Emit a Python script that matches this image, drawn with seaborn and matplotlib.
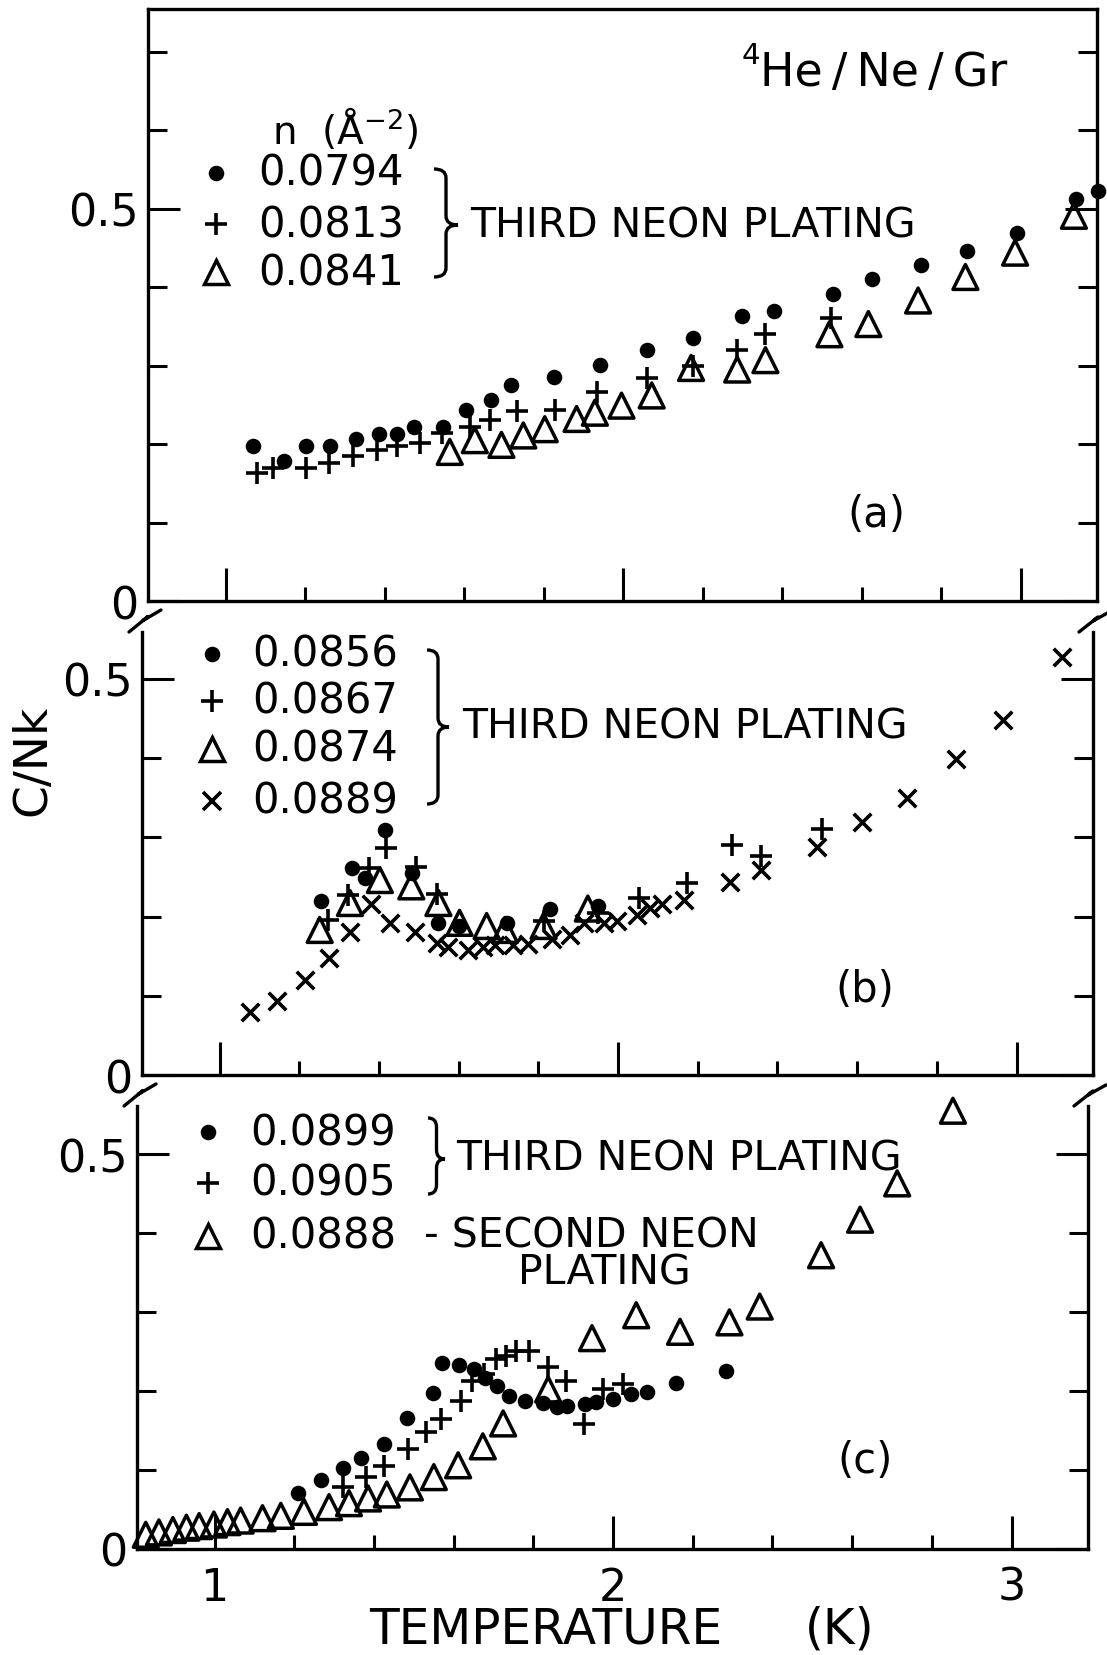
import matplotlib
matplotlib.use("Agg")
import matplotlib.pyplot as plt
import seaborn as sns
from matplotlib.lines import Line2D
from matplotlib.path import Path
from matplotlib.patches import PathPatch

# ---------------- data ----------------
# panel (a)
a_dot_T = [1.068, 1.146, 1.203, 1.264, 1.328, 1.385, 1.431, 1.474, 1.547, 1.604, 1.668, 1.717,
           1.827, 1.941, 2.061, 2.175, 2.298, 2.380, 2.528, 2.626, 2.750, 2.866, 2.991, 3.139, 3.195]
a_dot_C = [0.197, 0.179, 0.198, 0.197, 0.207, 0.213, 0.213, 0.222, 0.222, 0.244, 0.256, 0.275,
           0.286, 0.301, 0.320, 0.335, 0.363, 0.370, 0.391, 0.410, 0.428, 0.446, 0.469, 0.512, 0.523]
a_plus_T = [1.078, 1.119, 1.203, 1.260, 1.320, 1.381, 1.431, 1.488, 1.545, 1.615, 1.666, 1.733,
            1.828, 1.935, 2.060, 2.175, 2.287, 2.358, 2.522]
a_plus_C = [0.163, 0.169, 0.169, 0.176, 0.185, 0.192, 0.197, 0.202, 0.214, 0.222, 0.231, 0.242,
            0.243, 0.266, 0.284, 0.300, 0.320, 0.340, 0.361]
a_tri_T = [1.564, 1.627, 1.694, 1.749, 1.803, 1.883, 1.929, 1.996, 2.072, 2.171, 2.287, 2.358,
           2.519, 2.617, 2.742, 2.861, 2.986, 3.134]
a_tri_C = [0.190, 0.205, 0.199, 0.211, 0.219, 0.232, 0.240, 0.249, 0.262, 0.297, 0.295, 0.307,
           0.340, 0.353, 0.383, 0.413, 0.444, 0.491]
a_labels = ["0.0794", "0.0813", "0.0841"]

# panel (b)
b_dot_T = [1.255, 1.331, 1.364, 1.414, 1.483, 1.549, 1.600, 1.720, 1.828, 1.949]
b_dot_C = [0.220, 0.261, 0.248, 0.309, 0.255, 0.192, 0.188, 0.192, 0.210, 0.213]
b_plus_T = [1.272, 1.322, 1.375, 1.417, 1.492, 1.546, 1.813, 1.949, 2.052, 2.174, 2.287, 2.358, 2.512]
b_plus_C = [0.196, 0.227, 0.261, 0.286, 0.263, 0.229, 0.194, 0.205, 0.223, 0.242, 0.290, 0.276, 0.311]
b_tri_T = [1.251, 1.327, 1.402, 1.481, 1.549, 1.602, 1.670, 1.716, 1.813, 1.924]
b_tri_C = [0.183, 0.217, 0.246, 0.238, 0.217, 0.192, 0.188, 0.183, 0.188, 0.210]
b_x_T = [1.076, 1.144, 1.213, 1.274, 1.326, 1.381, 1.427, 1.490, 1.545, 1.574, 1.624, 1.662,
         1.691, 1.737, 1.775, 1.834, 1.880, 1.914, 1.964, 1.997, 2.048, 2.081, 2.111, 2.165,
         2.280, 2.358, 2.500, 2.613, 2.725, 2.849, 2.965, 3.115]
b_x_C = [0.080, 0.093, 0.120, 0.148, 0.181, 0.216, 0.192, 0.181, 0.167, 0.161, 0.158, 0.162,
         0.164, 0.164, 0.165, 0.171, 0.177, 0.192, 0.192, 0.194, 0.202, 0.211, 0.216, 0.221,
         0.244, 0.259, 0.288, 0.319, 0.349, 0.399, 0.448, 0.527]
b_labels = ["0.0856", "0.0867", "0.0874", "0.0889"]

# panel (c)
c_dot_T = [1.209, 1.267, 1.322, 1.368, 1.425, 1.483, 1.549, 1.570, 1.614, 1.650, 1.678, 1.708,
           1.738, 1.779, 1.823, 1.858, 1.885, 1.929, 1.956, 2.000, 2.044, 2.085, 2.159, 2.283]
c_dot_C = [0.071, 0.087, 0.103, 0.115, 0.133, 0.166, 0.198, 0.236, 0.233, 0.228, 0.216, 0.206,
           0.194, 0.187, 0.185, 0.180, 0.181, 0.183, 0.186, 0.190, 0.196, 0.199, 0.210, 0.226]
c_plus_T = [1.321, 1.379, 1.425, 1.484, 1.530, 1.568, 1.618, 1.647, 1.677, 1.706, 1.731, 1.756,
            1.790, 1.836, 1.882, 1.928, 1.974, 2.024]
c_plus_C = [0.078, 0.091, 0.105, 0.127, 0.148, 0.165, 0.188, 0.213, 0.222, 0.241, 0.245, 0.251,
            0.251, 0.230, 0.213, 0.158, 0.202, 0.209]
c_tri_T = [0.827, 0.860, 0.895, 0.929, 0.961, 0.998, 1.032, 1.065, 1.120, 1.166, 1.224, 1.287,
           1.337, 1.385, 1.432, 1.490, 1.550, 1.611, 1.673, 1.724, 1.837, 1.947, 2.058, 2.168,
           2.292, 2.368, 2.522, 2.620, 2.713, 2.853]
c_tri_C = [0.018, 0.021, 0.024, 0.027, 0.029, 0.031, 0.034, 0.036, 0.039, 0.042, 0.047, 0.053,
           0.058, 0.064, 0.069, 0.078, 0.091, 0.106, 0.130, 0.159, 0.202, 0.267, 0.296, 0.275,
           0.287, 0.307, 0.372, 0.417, 0.463, 0.555]
c_labels = ["0.0899", "0.0905", "0.0888"]

x_ticks = [1, 2, 3]
x_tick_labels = ["1", "2", "3"]

# ---------------- figure ----------------
W, H = 1107, 1656
sns.set_style("ticks", {"axes.edgecolor": "black", "xtick.color": "black",
                        "ytick.color": "black", "axes.linewidth": 2.4})
plt.rcParams['font.family'] = ['DejaVu Sans']
plt.rcParams['text.color'] = 'black'

fig = plt.figure(figsize=(W / 100, H / 100), dpi=100)


def fr(px, py):
    return (px / W, 1 - py / H)


def make_axes(l, t, r, b):
    x0, y1 = fr(l, t)
    x1, y0 = fr(r, b)
    return fig.add_axes([x0, y0, x1 - x0, y1 - y0])


XLIM = (0.805, 3.192)
ax_a = make_axes(148, 10, 1097, 602)
ax_b = make_axes(142, 633, 1093, 1076)
ax_c = make_axes(137, 1107, 1088, 1550)
ylims = {ax_a: 0.7546, ax_b: 0.559, ax_c: 0.561}

LW = 2.4
STY = {
    'dot': dict(marker='o', s=125, color='black', edgecolor='black', linewidth=0),
    'plus': dict(marker='+', s=260, color='black', linewidth=2.6),
    'x': dict(marker='x', s=160, color='black', linewidth=2.6),
    'tri': dict(marker='^', s=320, color='black', facecolors='none', edgecolor='black', linewidth=2.5),
}


def draw(ax, T, C, kind):
    sns.scatterplot(x=T, y=C, ax=ax, clip_on=False, legend=False, zorder=3, **STY[kind])


draw(ax_a, a_dot_T, a_dot_C, 'dot')
draw(ax_a, a_plus_T, a_plus_C, 'plus')
draw(ax_a, a_tri_T, a_tri_C, 'tri')
draw(ax_b, b_dot_T, b_dot_C, 'dot')
draw(ax_b, b_plus_T, b_plus_C, 'plus')
draw(ax_b, b_tri_T, b_tri_C, 'tri')
draw(ax_b, b_x_T, b_x_C, 'x')
draw(ax_c, c_dot_T, c_dot_C, 'dot')
draw(ax_c, c_plus_T, c_plus_C, 'plus')
draw(ax_c, c_tri_T, c_tri_C, 'tri')

minor_x = [1.2, 1.4, 1.6, 1.8, 2.2, 2.4, 2.6, 2.8]
for ax in (ax_a, ax_b, ax_c):
    ax.set_xlim(*XLIM)
    ax.set_ylim(0, ylims[ax])
    ax.set_xlabel("")
    ax.set_ylabel("")
    ax.set_xticks(x_ticks)
    ax.set_xticks(minor_x, minor=True)
    ax.set_yticks([0, 0.5])
    ax.set_yticklabels(["0", "0.5"])
    ax.set_yticks([v for v in (0.1, 0.2, 0.3, 0.4, 0.6, 0.7) if v < ylims[ax]], minor=True)
    ax.tick_params(axis='y', which='both', direction='in', left=True, right=True,
                   labelsize=32, pad=7, width=2.2)
    ax.tick_params(axis='y', which='major', length=23)
    ax.tick_params(axis='y', which='minor', length=14)
    ax.tick_params(axis='x', which='both', direction='in', bottom=True, top=False,
                   labelsize=32, pad=12, width=2.2)
    ax.tick_params(axis='x', which='major', length=24)
    ax.tick_params(axis='x', which='minor', length=10)
    for sp in ax.spines.values():
        sp.set_linewidth(LW)
    ax.set_facecolor('none')

ax_a.tick_params(axis='x', labelbottom=False)
ax_b.tick_params(axis='x', labelbottom=False)
ax_c.set_xticklabels(x_tick_labels)
ax_b.spines['top'].set_visible(False)
ax_c.spines['top'].set_visible(False)


# ---------------- decorations ----------------
def text(px, py, s, size, **kw):
    kw.setdefault('ha', 'left')
    kw.setdefault('va', 'center')
    fig.text(*fr(px, py), s, fontsize=size, **kw)


def marker(px, py, kind):
    st = STY[kind]
    ms = st['s'] ** 0.5
    if kind == 'tri':
        ln = Line2D([px / W], [1 - py / H], marker='^', markersize=ms, markerfacecolor='none',
                    markeredgecolor='black', markeredgewidth=st['linewidth'], linestyle='none',
                    transform=fig.transFigure)
    elif kind == 'dot':
        ln = Line2D([px / W], [1 - py / H], marker='o', markersize=ms, color='black',
                    markeredgewidth=0, linestyle='none', transform=fig.transFigure)
    else:
        ln = Line2D([px / W], [1 - py / H], marker=st['marker'], markersize=ms, color='black',
                    markeredgewidth=st['linewidth'], linestyle='none', transform=fig.transFigure)
    fig.add_artist(ln)


def brace(x0, y_top, y_bot, w, y_tip=None):
    if y_tip is None:
        y_tip = (y_top + y_bot) / 2
    xm = x0 + w * 0.5
    r = 9
    v = [(x0, y_top), (xm, y_top), (xm, y_top + r),
         (xm, y_tip - r),
         (xm, y_tip), (x0 + w, y_tip),
         (xm, y_tip), (xm, y_tip + r),
         (xm, y_bot - r),
         (xm, y_bot), (x0, y_bot)]
    codes = [Path.MOVETO, Path.CURVE3, Path.CURVE3, Path.LINETO, Path.CURVE3, Path.CURVE3,
             Path.CURVE3, Path.CURVE3, Path.LINETO, Path.CURVE3, Path.CURVE3]
    p = Path([fr(a, b) for a, b in v], codes)
    fig.add_artist(PathPatch(p, transform=fig.transFigure, fill=False, lw=2.4, edgecolor='black'))


def bolt(x, y_up_bot, y_low_top):
    ym = (y_up_bot + y_low_top) / 2
    pts = [(x - 16, y_low_top), (x + 3, ym), (x - 2, ym + 4), (x + 16, y_up_bot + 9)]
    xs = [fr(a, b)[0] for a, b in pts]
    ys = [fr(a, b)[1] for a, b in pts]
    fig.add_artist(Line2D(xs, ys, color='black', lw=2.4, transform=fig.transFigure))


bolt(145, 602, 633)
bolt(1095, 603, 633)
bolt(140, 1076, 1107)
bolt(1090, 1077, 1107)

# y label
text(33, 760, "C/Nk", 34, rotation=90, ha='center')

# x label
text(369, 1630, "TEMPERATURE", 35)
text(805, 1630, "(K)", 35)

# panel (a) annotations
text(742, 56, "4", 21)
text(760, 73, "He\u2009/\u2009Ne\u2009/\u2009Gr", 33)
text(272, 144, "n  (Å$^{-2}$)", 28, va='baseline')
for (py, kind, lab) in zip([174, 225, 273], ['dot', 'plus', 'tri'], a_labels):
    marker(216, py, kind)
    text(258, py, lab, 30)
brace(434, 170, 278, 24, 226)
text(470, 227, "THIRD NEON PLATING", 29.5)
text(876, 515, "(a)", 30, ha='center')

# panel (b) annotations
for (py, kind, lab) in zip([655, 702, 750, 802], ['dot', 'plus', 'tri', 'x'], b_labels):
    marker(212, py, kind)
    text(252, py, lab, 30)
brace(427, 651, 805, 22, 728)
text(462, 728, "THIRD NEON PLATING", 29.5)
text(865, 990, "(b)", 30, ha='center')

# panel (c) annotations
for (py, kind, lab) in zip([1133, 1184, 1237], ['dot', 'plus', 'tri'], c_labels):
    marker(208, py, kind)
    text(250, py, lab, 30)
brace(428, 1119, 1195, 17, 1160)
text(456, 1160, "THIRD NEON PLATING", 29.5)
text(424, 1237, "- SECOND NEON", 29.5)
text(518, 1274, "PLATING", 29.5)
text(865, 1461, "(c)", 30, ha='center')

fig.savefig("out.png", dpi=100)
